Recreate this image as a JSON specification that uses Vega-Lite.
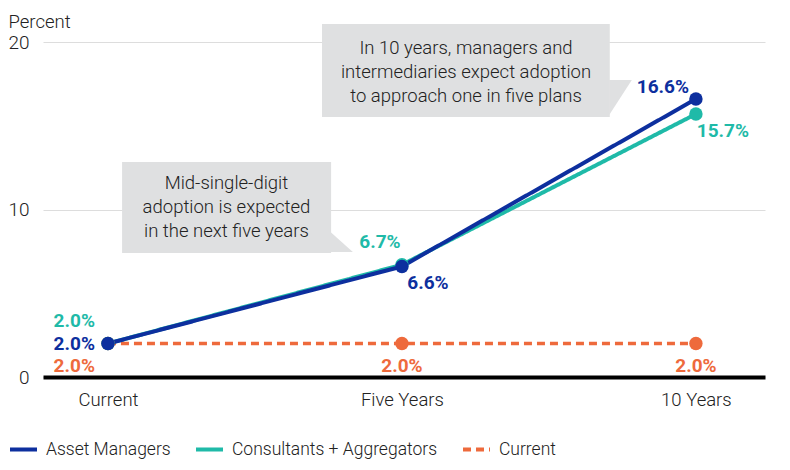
{
  "$schema": "https://vega.github.io/schema/vega-lite/v6.json",
  "width": 722,
  "height": 335,
  "autosize": {"type": "none"},
  "padding": {"left": 43, "top": 42, "right": 25, "bottom": 93},
  "background": "white",
  "config": {
    "view": {"stroke": null},
    "font": "Roboto",
    "text": {"font": "Roboto"}
  },
  "datasets": {
    "adoption": [
      {"stage": "Current", "pos": 0, "series": "Current", "pct": 2.0},
      {"stage": "Five Years", "pos": 1, "series": "Current", "pct": 2.0},
      {"stage": "10 Years", "pos": 2, "series": "Current", "pct": 2.0},
      {"stage": "Current", "pos": 0, "series": "Consultants + Aggregators", "pct": 2.0},
      {"stage": "Five Years", "pos": 1, "series": "Consultants + Aggregators", "pct": 6.7},
      {"stage": "10 Years", "pos": 2, "series": "Consultants + Aggregators", "pct": 15.7},
      {"stage": "Current", "pos": 0, "series": "Asset Managers", "pct": 2.0},
      {"stage": "Five Years", "pos": 1, "series": "Asset Managers", "pct": 6.6},
      {"stage": "10 Years", "pos": 2, "series": "Asset Managers", "pct": 16.6}
    ],
    "callouts": [
      {"id": "ten", "pos": 0.728, "pos_end": 1.707, "pct": 21.07, "pct_end": 15.52},
      {"id": "five", "pos": 0.048, "pos_end": 0.759, "pct": 12.84, "pct_end": 7.40}
    ],
    "pointers": [
      {"id": "ten", "pos": 1.705, "pct": 17.73, "pct_end": 15.64},
      {"id": "ten", "pos": 1.782, "pct": 17.73, "pct_end": 17.73},
      {"id": "five", "pos": 0.757, "pct": 8.66, "pct_end": 7.46},
      {"id": "five", "pos": 0.833, "pct": 7.46, "pct_end": 7.46}
    ],
    "notes": [
      {"pos": 1.218, "pct": 19.64, "note": "In 10 years, managers and\nintermediaries expect adoption\nto approach one in five plans"},
      {"pos": 0.403, "pct": 11.58, "note": "Mid-single-digit\nadoption is expected\nin the next five years"}
    ]
  },
  "encoding": {
    "x": {
      "field": "pos",
      "type": "quantitative",
      "title": null,
      "scale": {"domain": [-0.221, 2.235], "nice": false, "zero": false},
      "axis": {
        "values": [0, 1, 2],
        "labelExpr": "datum.value == 0 ? 'Current' : datum.value == 1 ? 'Five Years' : '10 Years'",
        "grid": false,
        "ticks": false,
        "domainColor": "#000000",
        "domainWidth": 4,
        "labelFontSize": 18.5,
        "labelFontWeight": 300,
        "labelColor": "#222222",
        "labelPadding": 13
      }
    },
    "y": {
      "field": "pct",
      "type": "quantitative",
      "title": "Percent",
      "scale": {"domain": [0, 20], "nice": false},
      "axis": {
        "values": [0, 10, 20],
        "domain": false,
        "ticks": false,
        "grid": true,
        "gridColor": "#dddddd",
        "gridWidth": 1,
        "labelFontSize": 19,
        "labelFontWeight": 300,
        "labelColor": "#222222",
        "labelPadding": 14,
        "titleAngle": 0,
        "titleAlign": "left",
        "titleBaseline": "middle",
        "titleX": -35,
        "titleY": -21,
        "titleFontSize": 18.5,
        "titleFontWeight": 300,
        "titleColor": "#222222"
      }
    }
  },
  "layer": [
    {
      "data": {"name": "callouts"},
      "mark": {"type": "rect", "color": "#dfe0e1"},
      "encoding": {"x2": {"field": "pos_end"}, "y2": {"field": "pct_end"}}
    },
    {
      "data": {"name": "pointers"},
      "mark": {"type": "area", "color": "#dfe0e1", "opacity": 1},
      "encoding": {"y2": {"field": "pct_end"}, "detail": {"field": "id"}}
    },
    {
      "data": {"name": "notes"},
      "mark": {"type": "text", "lineBreak": "\n", "fontSize": 18.5, "fontWeight": 300, "lineHeight": 24, "color": "#222222", "align": "center", "baseline": "middle"},
      "encoding": {"text": {"field": "note"}}
    },
    {
      "data": {"name": "adoption"},
      "layer": [
        {
          "transform": [{"filter": "datum.series == 'Current'"}],
          "mark": {"type": "line", "strokeWidth": 3.5},
          "encoding": {
            "color": {"field": "series", "type": "nominal",
              "scale": {"domain": ["Asset Managers", "Consultants + Aggregators", "Current"], "range": ["#0d2f9e", "#1fbaa8", "#ee6a3c"]},
              "legend": {"orient": "none", "legendX": -35, "legendY": 392, "direction": "horizontal", "title": null,
                "symbolType": "stroke", "symbolSize": 729, "symbolStrokeWidth": 4, "labelFontSize": 17.5, "labelFontWeight": 300, "labelColor": "#222222",
                "labelOffset": 7, "columnPadding": 17, "labelLimit": 400}},
            "strokeDash": {"field": "series", "type": "nominal",
              "scale": {"domain": ["Asset Managers", "Consultants + Aggregators", "Current"], "range": [[1, 0], [1, 0], [8, 5]]}}
          }
        },
        {
          "transform": [{"filter": "datum.series == 'Consultants + Aggregators'"}],
          "mark": {"type": "line", "strokeWidth": 4},
          "encoding": {
            "color": {"field": "series", "type": "nominal"},
            "strokeDash": {"field": "series", "type": "nominal"}
          }
        },
        {
          "transform": [{"filter": "datum.series == 'Asset Managers'"}],
          "mark": {"type": "line", "strokeWidth": 4},
          "encoding": {
            "color": {"field": "series", "type": "nominal"},
            "strokeDash": {"field": "series", "type": "nominal"}
          }
        },
        {
          "mark": {"type": "point", "filled": true, "opacity": 1, "size": 180},
          "encoding": {"color": {"field": "series", "type": "nominal"}}
        },
        {
          "transform": [
            {"filter": "datum.pos == 0"},
            {"calculate": "format(datum.pct, '.1f') + '%'", "as": "label"}
          ],
          "layer": [
            {
              "transform": [{"filter": "datum.series == 'Consultants + Aggregators'"}],
              "mark": {"type": "text", "fontSize": 19, "fontWeight": "bold", "color": "#1fbaa8", "align": "right", "baseline": "middle", "dx": -13, "dy": -23},
              "encoding": {"text": {"field": "label"}}
            },
            {
              "transform": [{"filter": "datum.series == 'Asset Managers'"}],
              "mark": {"type": "text", "fontSize": 19, "fontWeight": "bold", "color": "#0d2f9e", "align": "right", "baseline": "middle", "dx": -13, "dy": 0},
              "encoding": {"text": {"field": "label"}}
            },
            {
              "transform": [{"filter": "datum.series == 'Current'"}],
              "mark": {"type": "text", "fontSize": 19, "fontWeight": "bold", "color": "#ee6a3c", "align": "right", "baseline": "middle", "dx": -13, "dy": 22},
              "encoding": {"text": {"field": "label"}}
            }
          ]
        },
        {
          "transform": [
            {"filter": "datum.pos > 0"},
            {"calculate": "format(datum.pct, '.1f') + '%'", "as": "label"}
          ],
          "layer": [
            {
              "transform": [{"filter": "datum.series == 'Current'"}],
              "mark": {"type": "text", "fontSize": 19, "fontWeight": "bold", "color": "#ee6a3c", "align": "center", "baseline": "middle", "dy": 22},
              "encoding": {"text": {"field": "label"}}
            },
            {
              "transform": [{"filter": "datum.series == 'Consultants + Aggregators' && datum.pos == 1"}],
              "mark": {"type": "text", "fontSize": 19, "fontWeight": "bold", "color": "#1fbaa8", "align": "center", "baseline": "middle", "dx": -22, "dy": -23},
              "encoding": {"text": {"field": "label"}}
            },
            {
              "transform": [{"filter": "datum.series == 'Asset Managers' && datum.pos == 1"}],
              "mark": {"type": "text", "fontSize": 19, "fontWeight": "bold", "color": "#0d2f9e", "align": "center", "baseline": "middle", "dx": 26, "dy": 17},
              "encoding": {"text": {"field": "label"}}
            },
            {
              "transform": [{"filter": "datum.series == 'Asset Managers' && datum.pos == 2"}],
              "mark": {"type": "text", "fontSize": 19, "fontWeight": "bold", "color": "#0d2f9e", "align": "center", "baseline": "middle", "dx": -33, "dy": -12},
              "encoding": {"text": {"field": "label"}}
            },
            {
              "transform": [{"filter": "datum.series == 'Consultants + Aggregators' && datum.pos == 2"}],
              "mark": {"type": "text", "fontSize": 19, "fontWeight": "bold", "color": "#1fbaa8", "align": "center", "baseline": "middle", "dx": 27, "dy": 17},
              "encoding": {"text": {"field": "label"}}
            }
          ]
        }
      ]
    }
  ]
}
